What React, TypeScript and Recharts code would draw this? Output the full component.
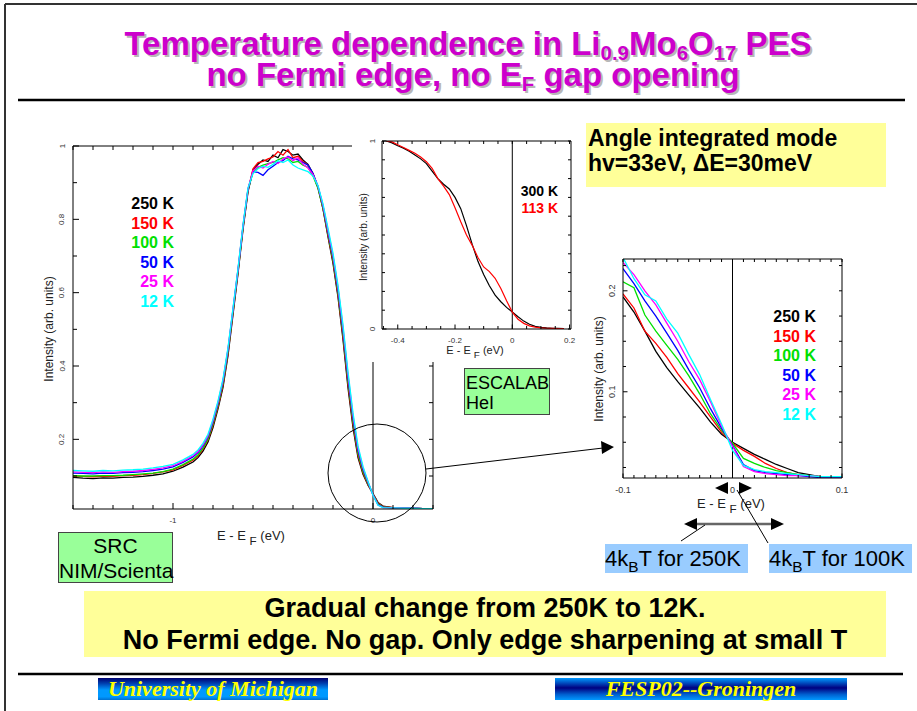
import { LineChart, Line, XAxis, YAxis, ReferenceLine } from "recharts";

// ---- main panel (SRC, NIM/Scienta) ----
const mainEnergy = [
  -1.5, -1.45, -1.4, -1.35, -1.3, -1.25, -1.2, -1.15, -1.1, -1.05, -1.0, -0.95,
  -0.9, -0.875, -0.85, -0.825, -0.8, -0.775, -0.75, -0.725, -0.7, -0.675, -0.65, -0.625, -0.6, -0.575,
  -0.55, -0.525, -0.5, -0.475, -0.45, -0.425, -0.4, -0.375, -0.35, -0.325, -0.3, -0.275, -0.25, -0.225,
  -0.2, -0.175, -0.15, -0.125, -0.1, -0.075, -0.05, -0.025, 0, 0.025, 0.05,
  0.1, 0.15, 0.2, 0.25, 0.3,
];
const main250K = [
  0.096, 0.094, 0.093, 0.095, 0.094, 0.096, 0.097, 0.099, 0.102, 0.106, 0.113, 0.124,
  0.138, 0.15, 0.168, 0.193, 0.232, 0.283, 0.342, 0.428, 0.54, 0.652, 0.772, 0.875, 0.935, 0.95,
  0.962, 0.958, 0.975, 0.968, 0.99, 0.985, 0.975, 0.978, 0.962, 0.95, 0.925, 0.888, 0.828, 0.752,
  0.68, 0.588, 0.472, 0.34, 0.232, 0.15, 0.105, 0.075, 0.052, 0.028, 0.018,
  0.014, 0.012, 0.012, 0.011, 0.011,
];
const main150K = [
  0.1, 0.099, 0.098, 0.1, 0.099, 0.101, 0.102, 0.104, 0.107, 0.111, 0.117, 0.129,
  0.143, 0.155, 0.173, 0.198, 0.238, 0.288, 0.348, 0.434, 0.545, 0.656, 0.776, 0.878, 0.938, 0.955,
  0.958, 0.965, 0.97, 0.985, 0.975, 0.99, 0.968, 0.972, 0.958, 0.948, 0.922, 0.886, 0.83, 0.756,
  0.686, 0.594, 0.48, 0.35, 0.24, 0.156, 0.108, 0.077, 0.051, 0.026, 0.017,
  0.014, 0.012, 0.012, 0.011, 0.011,
];
const main100K = [
  0.101, 0.1, 0.1, 0.101, 0.101, 0.102, 0.104, 0.106, 0.108, 0.112, 0.119, 0.131,
  0.146, 0.158, 0.176, 0.201, 0.242, 0.292, 0.352, 0.438, 0.548, 0.658, 0.778, 0.88, 0.928, 0.942,
  0.948, 0.952, 0.955, 0.962, 0.968, 0.965, 0.955, 0.958, 0.948, 0.942, 0.918, 0.884, 0.83, 0.76,
  0.69, 0.6, 0.488, 0.358, 0.248, 0.162, 0.112, 0.079, 0.05, 0.024, 0.016,
  0.013, 0.012, 0.012, 0.011, 0.011,
];
const main50K = [
  0.108, 0.107, 0.106, 0.108, 0.107, 0.109, 0.11, 0.112, 0.115, 0.119, 0.125, 0.137,
  0.152, 0.164, 0.182, 0.207, 0.248, 0.298, 0.358, 0.444, 0.553, 0.662, 0.781, 0.882, 0.93, 0.928,
  0.92, 0.935, 0.945, 0.955, 0.96, 0.972, 0.965, 0.962, 0.955, 0.948, 0.925, 0.89, 0.836, 0.766,
  0.698, 0.608, 0.498, 0.368, 0.258, 0.17, 0.118, 0.082, 0.049, 0.022, 0.015,
  0.013, 0.012, 0.012, 0.011, 0.011,
];
const main25K = [
  0.111, 0.11, 0.109, 0.111, 0.11, 0.112, 0.113, 0.115, 0.118, 0.122, 0.128, 0.14,
  0.155, 0.167, 0.185, 0.21, 0.251, 0.301, 0.361, 0.447, 0.556, 0.664, 0.783, 0.884, 0.932, 0.945,
  0.94, 0.95, 0.958, 0.952, 0.965, 0.97, 0.96, 0.968, 0.95, 0.94, 0.922, 0.89, 0.838, 0.77,
  0.702, 0.614, 0.505, 0.376, 0.265, 0.176, 0.122, 0.084, 0.048, 0.021, 0.014,
  0.013, 0.012, 0.012, 0.011, 0.011,
];
const main12K = [
  0.115, 0.114, 0.113, 0.115, 0.114, 0.116, 0.117, 0.119, 0.122, 0.126, 0.132, 0.144,
  0.159, 0.171, 0.189, 0.214, 0.255, 0.305, 0.365, 0.45, 0.558, 0.666, 0.785, 0.886, 0.925, 0.938,
  0.945, 0.942, 0.95, 0.96, 0.955, 0.962, 0.948, 0.94, 0.935, 0.93, 0.918, 0.892, 0.842, 0.776,
  0.708, 0.62, 0.512, 0.384, 0.272, 0.182, 0.126, 0.086, 0.047, 0.02, 0.014,
  0.013, 0.012, 0.012, 0.011, 0.011,
];
const mainXTicks = [-1.5, -1.4, -1.3, -1.2, -1.1, -1, -0.9, -0.8, -0.7, -0.6, -0.5, -0.4, -0.3, -0.2, -0.1, 0, 0.1, 0.2, 0.3];
const mainYTicks = [0.1, 0.2, 0.3, 0.4, 0.5, 0.6, 0.7, 0.8, 0.9, 1];
const mainXLabels: Record<string, string> = { "-1": "-1", "0": "0" };
const mainYLabels: Record<string, string> = { "0.2": "0.2", "0.4": "0.4", "0.6": "0.6", "0.8": "0.8", "1": "1" };

// ---- ESCALAB HeI inset ----
const escEnergy = [
  -0.44, -0.42, -0.4, -0.38, -0.36, -0.34, -0.32, -0.3, -0.28, -0.26, -0.24, -0.22, -0.2, -0.18, -0.16, -0.14,
  -0.12, -0.1, -0.08, -0.06, -0.04, -0.02, 0, 0.02, 0.04, 0.06, 0.08, 0.1, 0.12, 0.14, 0.16, 0.18,
];
const esc300K = [
  1.0, 0.99, 0.975, 0.962, 0.945, 0.925, 0.905, 0.88, 0.84, 0.8, 0.77, 0.745, 0.7, 0.64, 0.55, 0.45,
  0.36, 0.29, 0.23, 0.18, 0.145, 0.115, 0.09, 0.065, 0.042, 0.025, 0.014, 0.009, 0.006, 0.004, 0.003, 0.002,
];
const esc113K = [
  1.0, 0.995, 0.98, 0.965, 0.95, 0.935, 0.915, 0.89, 0.855, 0.8, 0.76, 0.715, 0.645, 0.57, 0.5, 0.445,
  0.38, 0.33, 0.305, 0.27, 0.215, 0.15, 0.09, 0.052, 0.03, 0.017, 0.01, 0.006, 0.004, 0.003, 0.002, 0.002,
];
const escXTicks = [-0.45, -0.4, -0.35, -0.3, -0.25, -0.2, -0.15, -0.1, -0.05, 0, 0.05, 0.1, 0.15, 0.2];
const escYTicks = [0, 0.1, 0.2, 0.3, 0.4, 0.5, 0.6, 0.7, 0.8, 0.9, 1];
const escXLabels: Record<string, string> = { "-0.4": "-0.4", "-0.2": "-0.2", "0": "0", "0.2": "0.2" };
const escYLabels: Record<string, string> = { "0": "0", "1": "1" };

// ---- zoom around E_F ----
const zoomEnergy = [
  -0.1, -0.09, -0.08, -0.07, -0.06, -0.05, -0.04, -0.03, -0.02, -0.01, 0,
  0.01, 0.02, 0.03, 0.04, 0.05, 0.06, 0.07, 0.08, 0.09, 0.1,
];
const zoom250K = [0.194, 0.179, 0.16, 0.14, 0.124, 0.11, 0.097, 0.084, 0.07, 0.058, 0.05, 0.044, 0.038, 0.033, 0.028, 0.024, 0.02, 0.018, 0.016, 0.015, 0.015];
const zoom150K = [0.197, 0.183, 0.16, 0.148, 0.134, 0.118, 0.104, 0.09, 0.075, 0.06, 0.049, 0.042, 0.036, 0.029, 0.024, 0.02, 0.018, 0.017, 0.016, 0.016, 0.015];
const zoom100K = [0.209, 0.203, 0.176, 0.16, 0.146, 0.132, 0.116, 0.098, 0.078, 0.062, 0.049, 0.034, 0.029, 0.025, 0.022, 0.02, 0.018, 0.017, 0.016, 0.016, 0.016];
const zoom50K = [0.222, 0.207, 0.19, 0.175, 0.158, 0.141, 0.122, 0.104, 0.083, 0.064, 0.047, 0.028, 0.022, 0.02, 0.019, 0.018, 0.017, 0.016, 0.015, 0.015, 0.015];
const zoom25K = [0.228, 0.216, 0.2, 0.186, 0.168, 0.15, 0.13, 0.112, 0.09, 0.066, 0.046, 0.026, 0.021, 0.019, 0.018, 0.017, 0.017, 0.017, 0.016, 0.016, 0.016];
const zoom12K = [0.233, 0.212, 0.196, 0.19, 0.172, 0.158, 0.137, 0.117, 0.092, 0.068, 0.042, 0.027, 0.023, 0.021, 0.02, 0.019, 0.018, 0.017, 0.016, 0.016, 0.016];
const zoomXTicks = zoomEnergy;
const zoomYTicks = [0.025, 0.05, 0.075, 0.1, 0.125, 0.15, 0.175, 0.2, 0.225];
const zoomXLabels: Record<string, string> = { "-0.1": "-0.1", "0": "0", "0.1": "0.1" };
const zoomYLabels: Record<string, string> = { "0.1": "0.1", "0.2": "0.2" };

const tempLabels = ["250 K", "150 K", "100 K", "50 K", "25 K", "12 K"];
const tempColors = ["#000000", "#ff0000", "#00e000", "#0000ff", "#ff00ff", "#00ffff"];
const tempKeys = ["k250", "k150", "k100", "k50", "k25", "k12"];
const escLabels = ["300 K", "113 K"];
const escColors = ["#000000", "#ff0000"];

const mainData = mainEnergy.map((x, i) => ({
  x, k250: main250K[i], k150: main150K[i], k100: main100K[i], k50: main50K[i], k25: main25K[i], k12: main12K[i],
}));
const escData = escEnergy.map((x, i) => ({ x, k300: esc300K[i], k113: esc113K[i] }));
const zoomData = zoomEnergy.map((x, i) => ({
  x, k250: zoom250K[i], k150: zoom150K[i], k100: zoom100K[i], k50: zoom50K[i], k25: zoom25K[i], k12: zoom12K[i],
}));

const SANS = "'Liberation Sans', Arial, sans-serif";
const SERIF = "'Liberation Serif', 'Times New Roman', serif";

type TickCfg = {
  side: "left" | "right" | "top" | "bottom";
  len: number;
  labels?: Record<string, string>;
  gap?: number;
  size?: number;
};

// inward tick marks, with a label where the axis wants one
function frameTick(cfg: TickCfg) {
  return (p: any) => {
    const x = p.x as number;
    const y = p.y as number;
    const v = p.payload ? (p.payload.value as number) : 0;
    const key = String(Math.round(v * 1000) / 1000);
    const label = cfg.labels ? cfg.labels[key] : undefined;
    const len = label !== undefined ? cfg.len * 1.5 : cfg.len;
    let x2 = x;
    let y2 = y;
    if (cfg.side === "left") x2 = x + len;
    if (cfg.side === "right") x2 = x - len;
    if (cfg.side === "bottom") y2 = y - len;
    if (cfg.side === "top") y2 = y + len;
    const gap = cfg.gap ?? 10;
    const size = cfg.size ?? 8;
    let text = null;
    if (label !== undefined && cfg.side === "left") {
      const tx = x - gap;
      text = (
        <text x={tx} y={y} transform={`rotate(-90 ${tx} ${y})`} textAnchor="middle" dominantBaseline="central"
          fontSize={size} fill="#333" fontFamily={SANS}>{label}</text>
      );
    }
    if (label !== undefined && cfg.side === "bottom") {
      text = (
        <text x={x} y={y + gap} textAnchor="middle" dominantBaseline="central" fontSize={size} fill="#333" fontFamily={SANS}>
          {label}
        </text>
      );
    }
    return (
      <g>
        <line x1={x} y1={y} x2={x2} y2={y2} stroke="#000" strokeWidth={1} />
        {text}
      </g>
    );
  };
}

function SubLabel({ x, y, size }: { x: number; y: number; size: number }) {
  return (
    <text x={x} y={y} textAnchor="middle" fontSize={size} fill="#222" fontFamily={SANS}>
      E - E <tspan dy={size * 0.35} fontSize={size * 0.9}>F</tspan>
      <tspan dy={-size * 0.35}> (eV)</tspan>
    </text>
  );
}

function Legend({ left, top, width, size, lh, labels, colors }: {
  left: number; top: number; width: number; size: number; lh: number; labels: string[]; colors: string[];
}) {
  return (
    <div style={{ position: "absolute", left, top, width, textAlign: "right", fontWeight: "bold", fontSize: size, lineHeight: `${lh}px`, fontFamily: SANS }}>
      {labels.map((l, i) => (
        <div key={l} style={{ color: colors[i] }}>{l}</div>
      ))}
    </div>
  );
}

const sub = { fontSize: "0.62em", verticalAlign: "-0.22em", lineHeight: 0 };

export default function App() {
  const box = { position: "absolute" as const, boxSizing: "border-box" as const, fontFamily: SANS };
  const titleLine = { position: "absolute" as const, left: 0, width: 936, height: 26, lineHeight: "26px",
    textAlign: "center" as const, whiteSpace: "nowrap" as const };
  return (
    <div style={{ position: "absolute", left: 0, top: 0, width: 917, height: 711, background: "#fff", overflow: "hidden", fontFamily: SANS }}>
      {/* title */}
      <div style={{ position: "absolute", left: 0, top: 0, width: 917, height: 100, color: "#cc00cc", fontWeight: "bold",
        fontSize: 33, textShadow: "2px 2px 0 #b8b8b8", fontFamily: SANS }}>
        <div style={{ ...titleLine, top: 31 }}>
          Temperature dependence in Li<span style={sub}>0.9</span>Mo<span style={sub}>6</span>O<span style={sub}>17</span> PES
        </div>
        <div style={{ ...titleLine, top: 62, width: 946 }}>
          no Fermi edge, no E<span style={sub}>F</span> gap opening
        </div>
      </div>

      {/* main chart */}
      <div style={{ position: "absolute", left: 0, top: 120 }}>
        <LineChart width={450} height={430} data={mainData} margin={{ top: 25, right: 16, bottom: 11, left: 43 }}>
          <XAxis dataKey="x" type="number" domain={[-1.5, 0.3]} allowDataOverflow ticks={mainXTicks} interval={0}
            height={30} tickSize={0} tickMargin={0} axisLine={{ stroke: "#000" }} tickLine={false}
            tick={frameTick({ side: "bottom", len: 4, labels: mainXLabels, gap: 11, size: 8 })} />
          <XAxis xAxisId="t" orientation="top" dataKey="x" type="number" domain={[-1.5, 0.3]} allowDataOverflow ticks={mainXTicks}
            interval={0} height={1} tickSize={0} tickMargin={0} axisLine={{ stroke: "#000" }} tickLine={false}
            tick={frameTick({ side: "top", len: 4 })} />
          <YAxis type="number" domain={[0.01, 1]} allowDataOverflow ticks={mainYTicks} interval={0} width={30}
            tickSize={0} tickMargin={0} axisLine={{ stroke: "#000" }} tickLine={false}
            tick={frameTick({ side: "left", len: 4, labels: mainYLabels, gap: 11, size: 8 })} />
          <YAxis yAxisId="r" orientation="right" type="number" domain={[0.01, 1]} allowDataOverflow ticks={mainYTicks}
            interval={0} width={1} tickSize={0} tickMargin={0} axisLine={{ stroke: "#000" }} tickLine={false}
            tick={frameTick({ side: "right", len: 4 })} />
          <ReferenceLine x={0} stroke="#000" strokeWidth={1} />
          {tempKeys.map((k, i) => (
            <Line key={k} dataKey={k} stroke={tempColors[i]} strokeWidth={1.3} dot={false} isAnimationActive={false} />
          ))}
        </LineChart>
      </div>

      {/* ESCALAB inset, white backing hides the main frame */}
      <div style={{ position: "absolute", left: 352, top: 131, width: 232, height: 231, background: "#fff" }} />
      <div style={{ position: "absolute", left: 340, top: 125 }}>
        <LineChart width={250} height={240} data={escData} margin={{ top: 15, right: 18, bottom: 11, left: 12 }}>
          <XAxis dataKey="x" type="number" domain={[-0.455, 0.205]} allowDataOverflow ticks={escXTicks} interval={0}
            height={25} tickSize={0} tickMargin={0} axisLine={{ stroke: "#000" }} tickLine={false}
            tick={frameTick({ side: "bottom", len: 3, labels: escXLabels, gap: 11, size: 8 })} />
          <XAxis xAxisId="t" orientation="top" dataKey="x" type="number" domain={[-0.455, 0.205]} allowDataOverflow ticks={escXTicks}
            interval={0} height={1} tickSize={0} tickMargin={0} axisLine={{ stroke: "#000" }} tickLine={false}
            tick={frameTick({ side: "top", len: 3 })} />
          <YAxis type="number" domain={[0, 1]} allowDataOverflow ticks={escYTicks} interval={0} width={30}
            tickSize={0} tickMargin={0} axisLine={{ stroke: "#000" }} tickLine={false}
            tick={frameTick({ side: "left", len: 3, labels: escYLabels, gap: 10, size: 8 })} />
          <YAxis yAxisId="r" orientation="right" type="number" domain={[0, 1]} allowDataOverflow ticks={escYTicks}
            interval={0} width={1} tickSize={0} tickMargin={0} axisLine={{ stroke: "#000" }} tickLine={false}
            tick={frameTick({ side: "right", len: 3 })} />
          <ReferenceLine x={0} stroke="#000" strokeWidth={1} />
          <Line dataKey="k300" stroke={escColors[0]} strokeWidth={1.2} dot={false} isAnimationActive={false} />
          <Line dataKey="k113" stroke={escColors[1]} strokeWidth={1.2} dot={false} isAnimationActive={false} />
        </LineChart>
      </div>

      {/* zoom near E_F */}
      <div style={{ position: "absolute", left: 580, top: 245 }}>
        <LineChart width={280} height={260} data={zoomData} margin={{ top: 13, right: 17, bottom: 7, left: 13 }}>
          <XAxis dataKey="x" type="number" domain={[-0.1, 0.1]} allowDataOverflow ticks={zoomXTicks} interval={0}
            height={20} tickSize={0} tickMargin={0} axisLine={{ stroke: "#000" }} tickLine={false}
            tick={frameTick({ side: "bottom", len: 3, labels: zoomXLabels, gap: 12, size: 9 })} />
          <XAxis xAxisId="t" orientation="top" dataKey="x" type="number" domain={[-0.1, 0.1]} allowDataOverflow ticks={zoomXTicks}
            interval={0} height={1} tickSize={0} tickMargin={0} axisLine={{ stroke: "#000" }} tickLine={false}
            tick={frameTick({ side: "top", len: 3 })} />
          <YAxis type="number" domain={[0.0146, 0.2315]} allowDataOverflow ticks={zoomYTicks} interval={0} width={30}
            tickSize={0} tickMargin={0} axisLine={{ stroke: "#000" }} tickLine={false}
            tick={frameTick({ side: "left", len: 3, labels: zoomYLabels, gap: 11, size: 9 })} />
          <YAxis yAxisId="r" orientation="right" type="number" domain={[0.0146, 0.2315]} allowDataOverflow ticks={zoomYTicks}
            interval={0} width={1} tickSize={0} tickMargin={0} axisLine={{ stroke: "#000" }} tickLine={false}
            tick={frameTick({ side: "right", len: 3 })} />
          <ReferenceLine x={0} stroke="#000" strokeWidth={1} />
          {tempKeys.map((k, i) => (
            <Line key={k} dataKey={k} stroke={tempColors[i]} strokeWidth={1.3} dot={false} isAnimationActive={false} />
          ))}
        </LineChart>
      </div>

      {/* frame, rules, axis titles, circle and arrows */}
      <svg width={917} height={711} style={{ position: "absolute", left: 0, top: 0, pointerEvents: "none" }}>
        <line x1={5} y1={4} x2={917} y2={4} stroke="#333" strokeWidth={2} />
        <line x1={5} y1={4} x2={5} y2={711} stroke="#333" strokeWidth={2} />
        <line x1={18} y1={100} x2={905} y2={100} stroke="#000" strokeWidth={2.5} />
        <line x1={18} y1={674} x2={903} y2={674} stroke="#000" strokeWidth={2.5} />

        <text x={49} y={329} transform="rotate(-90 49 329)" textAnchor="middle" dominantBaseline="central" fontSize={12} fill="#222" fontFamily={SANS}>
          Intensity (arb. units)
        </text>
        <SubLabel x={251} y={540} size={13} />
        <text x={363} y={237} transform="rotate(-90 363 237)" textAnchor="middle" dominantBaseline="central" fontSize={10} fill="#222" fontFamily={SANS}>
          Intensity (arb. units)
        </text>
        <SubLabel x={475} y={354} size={11} />
        <text x={599} y={369} transform="rotate(-90 599 369)" textAnchor="middle" dominantBaseline="central" fontSize={12} fill="#222" fontFamily={SANS}>
          Intensity (arb. units)
        </text>
        <SubLabel x={731} y={508} size={13} />

        <circle cx={377} cy={473} r={49} fill="none" stroke="#000" strokeWidth={1} />
        <line x1={426} y1={469} x2={603} y2={448} stroke="#000" strokeWidth={1} />
        <polygon points="601,441 614,447 602,454" fill="#000" />

        <polygon points="715,488 728,482 728,494" fill="#000" />
        <polygon points="752,488 739,482 739,494" fill="#000" />

        <line x1={696} y1={524} x2={772} y2={524} stroke="#666" strokeWidth={2.5} />
        <polygon points="684,524 697,518 697,530" fill="#000" />
        <polygon points="784,524 771,518 771,530" fill="#000" />
        <line x1={705} y1={525} x2={681} y2={541} stroke="#000" strokeWidth={1} />
        <line x1={737} y1={490} x2={768} y2={543} stroke="#000" strokeWidth={1} />
      </svg>

      <Legend left={94} top={194} width={80} size={16} lh={19.6} labels={tempLabels} colors={tempColors} />
      <Legend left={488} top={183} width={70} size={14} lh={16.5} labels={escLabels} colors={escColors} />
      <Legend left={736} top={307} width={80} size={16} lh={19.5} labels={tempLabels} colors={tempColors} />

      <div style={{ ...box, left: 586, top: 123, width: 300, height: 64, background: "#ffff99", fontWeight: "bold", fontSize: 23,
        lineHeight: "25px", padding: "3px 0 0 2px", whiteSpace: "nowrap" }}>
        <div>Angle integrated mode</div>
        <div>hv=33eV, ΔE=30meV</div>
      </div>

      <div style={{ ...box, left: 464, top: 368, width: 86, height: 47, background: "#99ff99", border: "1px solid #444",
        fontSize: 18, lineHeight: "20px", padding: "4px 0 0 1px" }}>
        <div>ESCALAB</div>
        <div>HeI</div>
      </div>

      <div style={{ ...box, left: 58, top: 532, width: 115, height: 51, background: "#99ff99", border: "1px solid #444",
        fontSize: 21, lineHeight: "25px", textAlign: "center" }}>
        <div>SRC</div>
        <div>NIM/Scienta</div>
      </div>

      <div style={{ ...box, left: 605, top: 544, width: 143, height: 29, background: "#99ccff", fontSize: 22, lineHeight: "29px", whiteSpace: "nowrap" }}>
        4k<span style={{ fontSize: "0.7em", verticalAlign: "-0.4em", lineHeight: 0 }}>B</span>T for 250K
      </div>
      <div style={{ ...box, left: 769, top: 544, width: 143, height: 29, background: "#99ccff", fontSize: 22, lineHeight: "29px", whiteSpace: "nowrap" }}>
        4k<span style={{ fontSize: "0.7em", verticalAlign: "-0.4em", lineHeight: 0 }}>B</span>T for 100K
      </div>

      <div style={{ ...box, left: 84, top: 591, width: 802, height: 66, background: "#ffff99", fontWeight: "bold", fontSize: 27,
        lineHeight: "32px", textAlign: "center", paddingTop: 1, whiteSpace: "nowrap" }}>
        <div>Gradual change from 250K to 12K.</div>
        <div>No Fermi edge. No gap. Only edge sharpening at small T</div>
      </div>

      <div style={{ ...box, left: 98, top: 678, width: 230, height: 22,
        background: "linear-gradient(#000070 0%, #0040b0 25%, #0099ff 55%, #0099ff 85%, #0070d0 100%)",
        color: "#ffff00", fontFamily: SERIF, fontWeight: "bold", fontStyle: "italic", fontSize: 22, lineHeight: "22px", textAlign: "center", whiteSpace: "nowrap" }}>
        University of Michigan
      </div>
      <div style={{ ...box, left: 555, top: 678, width: 292, height: 22,
        background: "linear-gradient(#0099ff 0%, #000080 45%, #0060d0 75%, #0099ff 100%)",
        color: "#ffff00", fontFamily: SERIF, fontWeight: "bold", fontStyle: "italic", fontSize: 22, lineHeight: "22px", textAlign: "center", whiteSpace: "nowrap" }}>
        FESP02--Groningen
      </div>
    </div>
  );
}
